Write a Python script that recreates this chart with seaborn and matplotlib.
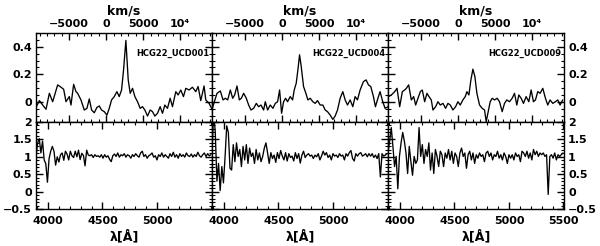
import numpy as np
import pandas as pd
import matplotlib
matplotlib.use("Agg")
import matplotlib.pyplot as plt
import seaborn as sns
from matplotlib.ticker import MultipleLocator, FixedLocator

# cross-correlation functions (top row), velocity in km/s
vel_ucd001 = [-9450, -9045, -8595, -8145, -7695, -7245, -6570, -6120, -5760, -5445,
              -4995, -4770, -4410, -4095, -3870, -3420, -2970, -2610, -2295, -1980,
              -1620, -1260, -945, -630, -270, 90, 405, 720, 1080, 1440,
              1755, 2070, 2340, 2655, 2970, 3240, 3555, 3870, 4230, 4590,
              4905, 5220, 5580, 5940, 6255, 6570, 6930, 7290, 7605, 7920,
              8280, 8640, 8955, 9405, 9720, 10080, 10440, 10755, 11205, 11655,
              12105, 12420, 12780, 13230, 13455, 13905, 14310]
cc_ucd001 = [-0.034, 0.010, -0.022, -0.053, 0.063, 0.002, 0.124, 0.107, 0.092, 0.002,
             0.039, -0.022, 0.128, 0.075, 0.063, 0.015, -0.058, -0.046, 0.022, -0.058,
             -0.078, -0.039, -0.029, -0.058, -0.070, -0.095, -0.046, 0.015, 0.039, 0.075,
             0.039, 0.087, 0.233, 0.446, 0.160, 0.063, 0.099, 0.039, 0.002, -0.046,
             -0.034, -0.058, -0.102, -0.058, -0.070, -0.102, -0.082, -0.034, -0.082, -0.022,
             -0.046, 0.027, -0.034, 0.075, 0.051, 0.087, 0.039, 0.099, 0.087, 0.107,
             0.075, 0.112, 0.010, 0.116, 0.015, -0.010, -0.053]

vel_ucd004 = [-9450, -9180, -8820, -8370, -8010, -7695, -7380, -7020, -6705, -6435,
              -6120, -5805, -5535, -5220, -4860, -4545, -4230, -3870, -3510, -3195,
              -2880, -2520, -2295, -1980, -1620, -1260, -945, -630, -360, -90,
              180, 450, 720, 1080, 1395, 1620, 1890, 2115, 2340, 2565,
              2880, 3195, 3465, 3780, 4140, 4455, 4770, 5130, 5490, 5805,
              6120, 6480, 6840, 7155, 7470, 7830, 8190, 8505, 8820, 9180,
              9540, 9855, 10170, 10530, 10980, 11340, 11655, 11970, 12330, 12600,
              13005, 13230, 13590, 13905, 14310]
cc_ucd004 = [-0.046, 0.002, 0.063, 0.080, 0.015, 0.027, 0.015, 0.087, 0.027, 0.051,
             0.116, 0.015, 0.027, 0.063, 0.027, -0.022, -0.058, -0.046, -0.010, -0.034,
             -0.022, -0.058, 0.002, -0.058, -0.022, -0.046, -0.010, 0.002, 0.087, -0.082,
             0.002, 0.027, 0.002, 0.039, 0.015, 0.087, 0.136, 0.233, 0.342, 0.257,
             0.112, 0.063, 0.015, 0.027, 0.002, -0.010, 0.010, -0.022, -0.022, -0.058,
             -0.070, -0.095, -0.126, -0.102, -0.058, 0.027, 0.075, 0.015, -0.022, 0.015,
             -0.034, 0.039, 0.015, 0.087, 0.148, 0.160, 0.124, 0.112, 0.039, -0.034,
             0.039, 0.075, 0.002, -0.046, -0.034]

vel_ucd009 = [-9450, -9045, -8595, -8280, -7920, -7560, -7245, -7020, -6705, -6345,
              -6030, -5760, -5445, -5130, -4860, -4545, -4230, -3960, -3645, -3420,
              -3060, -2745, -2430, -2070, -1710, -1395, -1080, -720, -360, -45,
              270, 630, 945, 1170, 1440, 1710, 1980, 2250, 2520, 2880,
              3240, 3555, 3780, 4050, 4320, 4590, 4905, 5265, 5580, 5940,
              6255, 6570, 6930, 7290, 7605, 7920, 8190, 8505, 8820, 9180,
              9540, 9855, 10170, 10440, 10755, 11070, 11430, 11790, 12105, 12420,
              12780, 13140, 13455, 13770, 14130]
cc_ucd009 = [0.039, 0.051, 0.075, 0.099, -0.034, 0.075, 0.087, 0.099, 0.124, 0.015,
             0.039, -0.022, 0.027, 0.075, 0.087, 0.002, 0.063, 0.039, 0.015, -0.058,
             -0.034, 0.002, -0.022, -0.010, -0.046, -0.010, -0.022, -0.058, -0.034, 0.002,
             -0.022, 0.015, 0.039, 0.075, 0.051, 0.160, 0.238, 0.184, 0.063, -0.022,
             -0.046, -0.058, -0.143, -0.070, 0.002, 0.027, 0.015, 0.027, 0.002, -0.070,
             -0.010, 0.015, 0.002, 0.027, 0.063, -0.022, 0.051, 0.027, -0.010, 0.039,
             0.002, 0.087, 0.002, 0.015, 0.075, 0.063, 0.099, 0.027, -0.022, 0.015,
             -0.010, 0.002, 0.015, -0.022, 0.015]

# normalised spectra (bottom row), wavelength in Angstrom
wave = [3890, 3905, 3920, 3935, 3950, 3965, 3980, 3995, 4010, 4025,
        4040, 4055, 4070, 4085, 4100, 4115, 4130, 4145, 4160, 4175,
        4190, 4205, 4220, 4235, 4250, 4265, 4280, 4295, 4310, 4325,
        4340, 4355, 4370, 4385, 4400, 4415, 4430, 4445, 4460, 4475,
        4490, 4505, 4520, 4535, 4550, 4565, 4580, 4595, 4610, 4625,
        4640, 4655, 4670, 4685, 4700, 4715, 4730, 4745, 4760, 4775,
        4790, 4805, 4820, 4835, 4850, 4865, 4880, 4895, 4910, 4925,
        4940, 4955, 4970, 4985, 5000, 5015, 5030, 5045, 5060, 5075,
        5090, 5105, 5120, 5135, 5150, 5165, 5180, 5195, 5210, 5225,
        5240, 5255, 5270, 5285, 5300, 5315, 5330, 5345, 5360, 5375,
        5390, 5405, 5420, 5435, 5450, 5465, 5480, 5495]
flux_ucd001 = [1.01, 1.40, 1.52, 1.11, 1.45, 0.91, 0.80, 0.27, 0.95, 1.16,
               1.30, 1.16, 0.76, 1.00, 0.85, 1.06, 1.11, 0.90, 1.16, 1.08,
               0.91, 1.16, 1.03, 0.98, 1.16, 1.00, 1.19, 0.92, 1.10, 1.04,
               0.74, 1.19, 1.05, 1.03, 1.06, 0.98, 1.06, 1.01, 1.03, 0.99,
               1.06, 0.96, 1.06, 0.99, 1.03, 0.93, 0.86, 1.03, 1.08, 1.01,
               1.11, 0.99, 1.06, 1.03, 1.09, 0.99, 1.06, 1.03, 0.96, 1.06,
               1.01, 1.09, 1.03, 0.99, 1.11, 1.16, 1.01, 1.06, 0.96, 1.03,
               1.06, 1.11, 0.99, 1.03, 0.91, 1.06, 1.01, 1.11, 0.99, 1.06,
               1.01, 0.96, 1.09, 1.01, 1.13, 0.99, 1.06, 0.96, 1.09, 1.01,
               1.06, 0.99, 1.11, 1.03, 1.01, 1.08, 0.99, 1.06, 1.01, 1.13,
               1.03, 0.99, 1.06, 1.11, 1.01, 1.09, 1.03, 1.06]
flux_ucd004 = [1.11, 2.30, 1.70, 0.30, 0.81, 0.03, 0.72, 0.25, 1.00, 1.89,
               1.70, 0.67, 0.62, 1.35, 0.86, 1.40, 1.01, 1.21, 0.72, 1.30,
               0.91, 1.35, 0.81, 1.25, 1.01, 1.11, 0.81, 1.21, 0.91, 1.11,
               0.86, 1.01, 1.25, 1.40, 1.11, 0.81, 1.12, 0.95, 1.05, 0.84,
               1.12, 0.95, 1.18, 1.02, 0.91, 1.12, 0.88, 1.09, 0.98, 1.02,
               0.88, 1.12, 0.95, 1.09, 0.82, 1.05, 1.16, 0.98, 1.05, 1.09,
               1.02, 1.05, 0.95, 1.05, 1.00, 1.09, 0.91, 1.02, 1.16, 1.05,
               1.12, 0.98, 1.05, 0.91, 1.09, 1.02, 1.05, 0.98, 1.09, 1.02,
               1.05, 0.91, 1.09, 1.02, 1.12, 1.18, 0.95, 0.88, 1.09, 1.02,
               1.09, 1.12, 1.02, 1.05, 1.09, 1.00, 1.09, 1.02, 1.09, 0.98,
               1.05, 0.95, 1.09, 0.42, 1.09, 1.02, 1.05, 1.09]
flux_ucd009 = [1.11, 1.45, 1.84, 1.30, 0.72, 1.01, 0.08, 1.01, 1.40, 1.70,
               1.45, 1.11, 0.52, 1.30, 0.86, 0.47, 1.01, 0.81, 0.91, 1.84,
               1.01, 1.35, 0.81, 1.21, 1.01, 1.40, 0.62, 1.11, 0.52, 1.21,
               1.01, 0.72, 1.16, 1.06, 0.72, 1.11, 0.96, 1.21, 0.91, 1.16,
               0.81, 1.11, 1.01, 0.72, 1.11, 1.25, 1.01, 1.11, 0.67, 1.06,
               1.16, 0.91, 1.11, 0.81, 1.06, 0.96, 1.11, 1.01, 1.06, 0.86,
               1.11, 1.16, 1.01, 1.11, 0.91, 1.06, 1.01, 1.16, 0.96, 1.06,
               0.91, 1.11, 1.01, 0.81, 1.06, 0.96, 1.06, 0.91, 1.11, 1.01,
               1.06, 0.86, 1.16, 1.11, 1.01, 1.16, 0.96, 1.11, 0.91, 1.21,
               1.06, 1.16, 1.01, 1.11, 1.06, 1.11, 1.01, 1.06, -0.08, 1.01,
               1.06, 0.96, 1.11, 0.91, 1.06, 1.01, 1.06, 1.11]

names = ["HCG22_UCD001", "HCG22_UCD004", "HCG22_UCD009"]
vels = [vel_ucd001, vel_ucd004, vel_ucd009]
ccs = [cc_ucd001, cc_ucd004, cc_ucd009]
fluxes = [flux_ucd001, flux_ucd004, flux_ucd009]

vel_ticks = [-5000, 0, 5000, 10000]
vel_labels = ["\u22125000", "0", "5000", "10\u2074"]
cc_ticks = [0, 0.2, 0.4]
cc_labels = ["0", "0.2", "0.4"]
flux_ticks = [-0.5, 0, 0.5, 1, 1.5, 2]
flux_labels = ["\u22120.5", "0", "0.5", "1", "1.5", "2"]

sns.set_theme(style="ticks")
plt.rcParams["font.family"] = ["DejaVu Sans"]
plt.rcParams["font.weight"] = "bold"
plt.rcParams["axes.linewidth"] = 1.0
plt.rcParams["text.color"] = "black"
plt.rcParams["axes.labelcolor"] = "black"

fig = plt.figure(figsize=(6.0, 2.46), dpi=100)
W = 176 / 600
lefts = [36 / 600, 212 / 600, 388 / 600]
top_box = [(246 - 122) / 246, 89 / 246]
bot_box = [(246 - 209) / 246, 87 / 246]
fs = 8

for k in range(3):
    ax1 = fig.add_axes([lefts[k], top_box[0], W, top_box[1]])
    ax2 = fig.add_axes([lefts[k], bot_box[0], W, bot_box[1]])

    df1 = pd.DataFrame({"v": vels[k], "cc": ccs[k]})
    sns.lineplot(data=df1, x="v", y="cc", ax=ax1, color="black", lw=0.95,
                 estimator=None, sort=False)
    df2 = pd.DataFrame({"w": wave, "f": fluxes[k]})
    sns.lineplot(data=df2, x="w", y="f", ax=ax2, color="black", lw=0.95,
                 estimator=None, sort=False)

    ax1.set_xlim(-9500, 14300)
    ax1.set_ylim(-0.145, 0.5)
    ax2.set_xlim(3890, 5505)
    ax2.set_ylim(-0.5, 2.0)

    for ax in (ax1, ax2):
        ax.set_xlabel("")
        ax.set_ylabel("")
        ax.tick_params(which="both", direction="in", top=True, bottom=True,
                       left=True, right=True, color="black", labelsize=fs,
                       labelcolor="black")
        ax.tick_params(which="major", length=5, width=1.0, pad=3)
        ax.tick_params(which="minor", length=2.5, width=0.8)
        for s in ax.spines.values():
            s.set_color("black")

    # top row: velocity axis on top
    ax1.xaxis.set_major_locator(FixedLocator(vel_ticks))
    ax1.xaxis.set_minor_locator(MultipleLocator(1000))
    ax1.set_xticklabels(vel_labels)
    ax1.tick_params(axis="x", labelbottom=False, labeltop=True)
    ax1.xaxis.set_label_position("top")
    ax1.set_xlabel("km/s", fontsize=fs + 1, fontweight="bold", labelpad=3,
                   color="black")
    ax1.yaxis.set_major_locator(FixedLocator(cc_ticks))
    ax1.yaxis.set_minor_locator(MultipleLocator(0.05))
    ax1.set_yticklabels(cc_labels)
    ax1.text(0.985, 0.765, names[k], transform=ax1.transAxes, ha="right",
             va="center", fontsize=6, fontweight="bold", color="black")

    # bottom row: wavelength
    wl_ticks = [4000, 4500, 5000, 5500] if k == 2 else [4000, 4500, 5000]
    ax2.xaxis.set_major_locator(FixedLocator(wl_ticks))
    ax2.xaxis.set_minor_locator(MultipleLocator(100))
    ax2.set_xticklabels([str(t) for t in wl_ticks])
    ax2.tick_params(axis="x", pad=5)
    ax2.set_xlabel("\u03bb[\u00c5]", fontsize=fs + 1, fontweight="bold", labelpad=3,
                   color="black")
    ax2.yaxis.set_major_locator(FixedLocator(flux_ticks))
    ax2.yaxis.set_minor_locator(MultipleLocator(0.1))
    ax2.set_yticklabels(flux_labels)

    if k == 0:
        ax1.tick_params(axis="y", labelleft=True, labelright=False)
        ax2.tick_params(axis="y", labelleft=True, labelright=False)
    elif k == 1:
        ax1.tick_params(axis="y", labelleft=False, labelright=False)
        ax2.tick_params(axis="y", labelleft=False, labelright=False)
    else:
        ax1.tick_params(axis="y", labelleft=False, labelright=True)
        ax2.tick_params(axis="y", labelleft=False, labelright=True)

fig.savefig("out.png", dpi=100, facecolor="white")
